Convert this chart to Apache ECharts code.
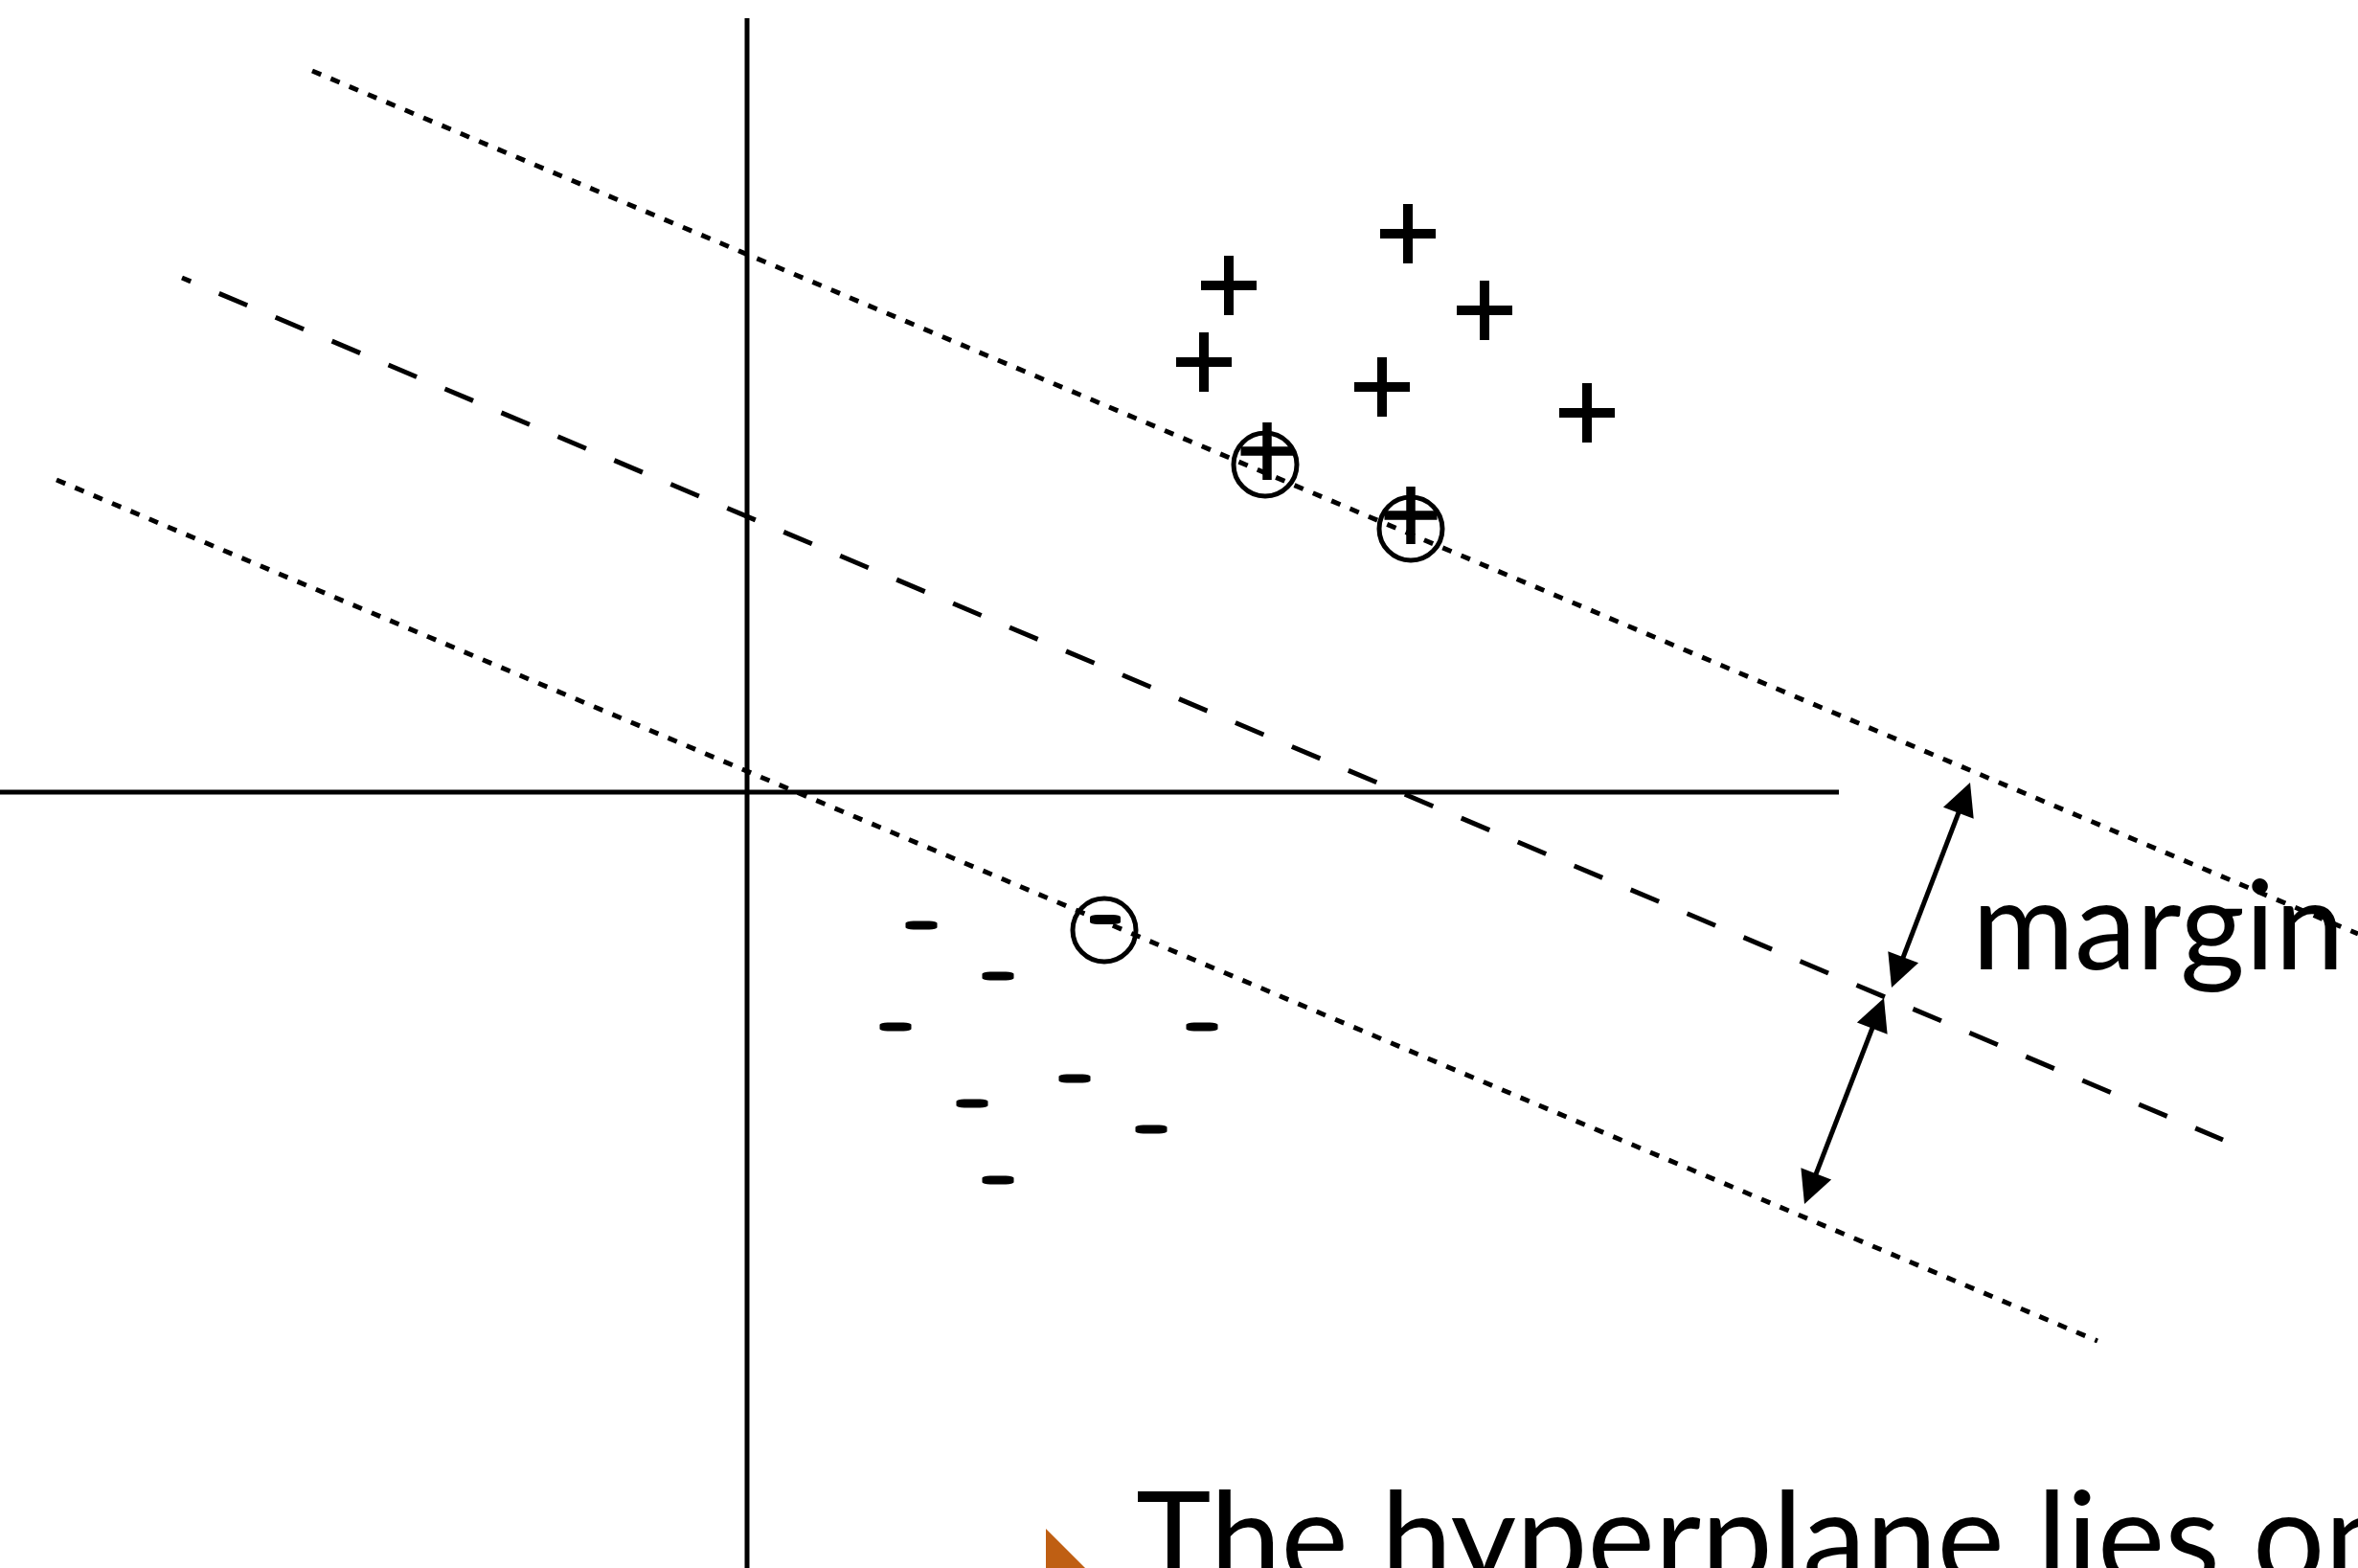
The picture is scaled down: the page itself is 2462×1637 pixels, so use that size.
<!DOCTYPE html>
<html>
<head>
<meta charset="utf-8">
<script src="https://cdn.jsdelivr.net/npm/echarts@6/dist/echarts.min.js"></script>
<style>
  html, body { margin: 0; padding: 0; background: #fff; }
  #chart { width: 2462px; height: 1637px; }
</style>
</head>
<body>
<div id="chart"></div>
<script>
// positions, in its own pixel units (x right, y down)
const plusPoints = [[1470, 244], [1283, 298], [1550, 324], [1257, 378], [1443, 404], [1657, 431]];
const supportPlus = [[1323, 471], [1473, 538]];
const supportPlusRings = [[1321, 485], [1473, 552]];
const minusPoints = [[962, 966], [1042, 1019], [935, 1072], [1255, 1072], [1122, 1126], [1015, 1152], [1202, 1179], [1042, 1232]];
const supportMinus = [[1154, 960]];
const supportMinusRings = [[1153, 971]];

const upperMargin = [[326, 74], [2462, 975]];
const hyperplane = [[190, 290], [2321, 1190]];
const lowerMargin = [[59, 501], [2190, 1400]];
const xAxisLine = [[0, 827], [1920, 827]];
const yAxisLine = [[780, 19], [780, 1637]];

// arrow tips (double headed)
const marginArrows = [
  [[2057, 817], [1975, 1031]],
  [[1967, 1042], [1884, 1257]]
];

const marginLabel = [[2059, 970]];
const bulletMark = [[1113, 1638]];
const bulletText = [[1186, 1610]];

const PLUS = 'path://M24,0H34V26H58V36H34V62H24V36H0V26H24Z';
const HEAD = 34;

// pull each end in by half a head so the triangle tip lands on the point
function arrowSegment(seg) {
  const [a, b] = seg;
  const dx = b[0] - a[0], dy = b[1] - a[1];
  const len = Math.hypot(dx, dy);
  const ux = dx / len * HEAD / 2, uy = dy / len * HEAD / 2;
  return [{ coord: [a[0] + ux, a[1] + uy] }, { coord: [b[0] - ux, b[1] - uy] }];
}

const lineSeries = (name, data, width, type, offset) => ({
  name, type: 'line', data, symbol: 'none', silent: true,
  lineStyle: { color: '#000', width, type, dashOffset: offset || 0, cap: 'butt' }
});

const markSeries = (name, data, symbol, size, extra) => Object.assign({
  name, type: 'scatter', data, silent: true, clip: false,
  symbol, symbolSize: size,
  itemStyle: { color: '#000', opacity: 1 }
}, extra || {});

const textSeries = (name, data, text, size) => ({
  name, type: 'scatter', data, symbolSize: 0, silent: true, clip: false,
  itemStyle: { opacity: 1 },
  label: {
    show: true, formatter: text, position: 'right', distance: 0,
    fontFamily: 'Lato', fontSize: size, color: '#000'
  }
});

const chart = echarts.init(document.getElementById('chart'));
chart.setOption({
  animation: false,
  backgroundColor: '#fff',
  grid: { left: 0, right: 0, top: 0, bottom: 0 },
  xAxis: { type: 'value', min: 0, max: 2462, show: false },
  yAxis: { type: 'value', min: 0, max: 1637, inverse: true, show: false },
  series: [
    lineSeries('x axis', xAxisLine, 5, 'solid'),
    lineSeries('y axis', yAxisLine, 5, 'solid'),
    lineSeries('upper margin', upperMargin, 5, [10, 11]),
    lineSeries('lower margin', lowerMargin, 5, [10, 11]),
    Object.assign(lineSeries('hyperplane', hyperplane, 5, [32, 32], 22), {
      markLine: {
        silent: true,
        symbol: ['triangle', 'triangle'],
        symbolSize: [HEAD, HEAD],
        label: { show: false },
        lineStyle: { color: '#000', width: 5, type: 'solid', opacity: 1 },
        itemStyle: { color: '#000' },
        data: marginArrows.map(arrowSegment)
      }
    }),
    markSeries('plus', plusPoints, PLUS, [58, 62]),
    markSeries('support plus', supportPlus, PLUS, [55, 60]),
    markSeries('minus', minusPoints, 'roundRect', [33, 9]),
    markSeries('support minus', supportMinus, 'roundRect', [32, 10]),
    markSeries('support rings', supportPlusRings.concat(supportMinusRings), 'circle', 66, {
      itemStyle: { color: 'rgba(0,0,0,0)', borderColor: '#000', borderWidth: 5, opacity: 1 }
    }),
    textSeries('margin', marginLabel, 'margin', 130),
    markSeries('bullet', bulletMark, 'triangle', [84, 42], {
      symbolRotate: -90,
      itemStyle: { color: '#BF5F13', opacity: 1 }
    }),
    textSeries('bullet text', bulletText, 'The hyperplane lies on', 133)
  ]
});
</script>
</body>
</html>
